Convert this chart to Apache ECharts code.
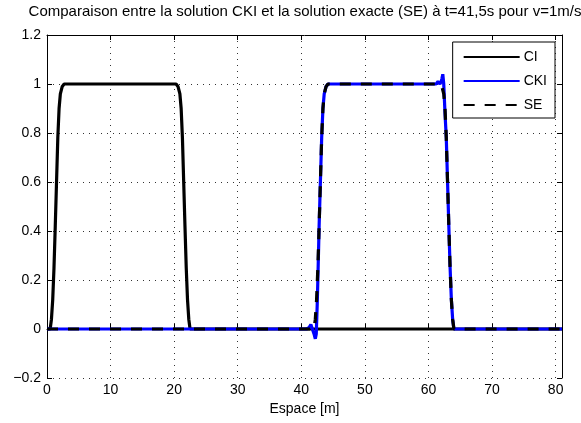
<!DOCTYPE html>
<html>
<head>
<meta charset="utf-8">
<script src="https://cdn.jsdelivr.net/npm/echarts@6/dist/echarts.min.js"></script>
<style>html,body{margin:0;padding:0;background:#fff;}#c{width:581px;height:423px;}</style>
</head>
<body>
<div id="c"></div>
<script>
// ---- data ----
const titleText = 'Comparaison entre la solution CKI et la solution exacte (SE) à t=41,5s pour v=1m/s';
const xName = 'Espace [m]';
const seriesNames = ['CI', 'CKI', 'SE'];
const xTicks = [0, 10, 20, 30, 40, 50, 60, 70, 80];
const yTicks = [-0.2, 0, 0.2, 0.4, 0.6, 0.8, 1, 1.2];

const ciX = [0, 0.5, 0.7, 0.9, 1.1, 1.3, 1.5, 1.7, 1.9, 2.1, 2.4, 2.7, 20.3, 20.6, 20.9, 21.1, 21.3, 21.5, 21.7, 21.9, 22.1, 22.3, 22.5, 81];
const ciY = [0, 0, 0.04, 0.12, 0.25, 0.42, 0.6, 0.78, 0.9, 0.96, 0.99, 1, 1, 0.99, 0.96, 0.9, 0.78, 0.6, 0.42, 0.25, 0.12, 0.04, 0, 0];

const ckiX = [0, 40.8, 41.2, 41.5, 41.8, 42.0, 42.2, 42.35, 42.5, 42.6, 42.8, 43.0, 43.2, 43.4, 43.6, 43.9, 44.2, 61.2, 61.5, 61.8, 62.0, 62.1, 62.25, 62.4, 62.6, 62.8, 63.0, 63.2, 63.4, 63.6, 63.8, 64.0, 81];
const ckiY = [0, 0, 0.005, 0.018, 0.01, -0.02, -0.04, -0.02, 0.1, 0.2, 0.42, 0.6, 0.78, 0.9, 0.96, 0.99, 1, 1, 1.01, 1.0, 1.01, 1.02, 1.04, 1.0, 0.88, 0.78, 0.6, 0.42, 0.25, 0.12, 0.04, 0, 0];

const seX = [0, 42.0, 42.2, 42.4, 42.6, 42.8, 43.0, 43.2, 43.4, 43.6, 43.9, 44.2, 61.8, 62.1, 62.4, 62.6, 62.8, 63.0, 63.2, 63.4, 63.6, 63.8, 64.0, 81];
const seY = [0, 0, 0.04, 0.12, 0.25, 0.42, 0.6, 0.78, 0.9, 0.96, 0.99, 1, 1, 0.99, 0.96, 0.9, 0.78, 0.6, 0.42, 0.25, 0.12, 0.04, 0, 0];

// ---- build ----
const zip = (xs, ys) => xs.map((x, i) => [x, ys[i]]);
const FONT = 'Liberation Sans, Arial, Helvetica, sans-serif';
const chart = echarts.init(document.getElementById('c'), null, {renderer: 'canvas'});
const dots = {show: true, lineStyle: {color: '#333', width: 1, type: [1, 5]}};
const fmtY = v => (Math.round(v * 10) / 10).toString().replace('-', '\u2212');

chart.setOption({
  animation: false,
  backgroundColor: '#fff',
  graphic: [{
    type: 'text', x: 305, y: 4,
    style: {text: titleText, fill: '#000', font: '15px ' + FONT, textAlign: 'center', textVerticalAlign: 'top'}
  }],
  grid: {left: 47, right: 19, top: 35, bottom: 45, show: false},
  legend: {
    data: seriesNames, orient: 'vertical', right: 26, top: 42,
    itemWidth: 56, itemHeight: 14, itemGap: 10,
    padding: [8, 8, 6, 10],
    borderColor: '#000', borderWidth: 1, backgroundColor: '#fff',
    itemStyle: {opacity: 0},
    textStyle: {fontFamily: FONT, fontSize: 14, lineHeight: 14, color: '#000', padding: [0, 0, 0, -1]}
  },
  xAxis: [{
    type: 'value', min: 0, max: 81, interval: 10,
    name: xName, nameLocation: 'middle', nameGap: 24,
    nameTextStyle: {fontFamily: FONT, fontSize: 14, color: '#000'},
    axisLine: {show: true, lineStyle: {color: '#000', width: 1}},
    axisTick: {show: true, inside: true, length: 5, lineStyle: {color: '#000'}},
    axisLabel: {fontFamily: FONT, fontSize: 14, color: '#000', margin: 5, showMaxLabel: false,
      formatter: v => (v % 10 === 0 ? String(v) : '')},
    splitLine: dots
  }, {
    type: 'value', min: 0, max: 81, interval: 10, position: 'top',
    axisLine: {show: true, onZero: false, lineStyle: {color: '#000', width: 1}},
    axisTick: {show: true, inside: true, length: 5, lineStyle: {color: '#000'}},
    axisLabel: {show: false}, splitLine: {show: false}
  }],
  yAxis: [{
    type: 'value', min: -0.2, max: 1.2, interval: 0.2,
    axisLine: {show: true, onZero: false, lineStyle: {color: '#000', width: 1}},
    axisTick: {show: true, inside: true, length: 5, lineStyle: {color: '#000'}},
    axisLabel: {fontFamily: FONT, fontSize: 14, color: '#000', margin: 6, formatter: fmtY},
    splitLine: dots
  }, {
    type: 'value', min: -0.2, max: 1.2, interval: 0.2, position: 'right',
    axisLine: {show: true, onZero: false, lineStyle: {color: '#000', width: 1}},
    axisTick: {show: true, inside: true, length: 5, lineStyle: {color: '#000'}},
    axisLabel: {show: false}, splitLine: {show: false}
  }],
  series: [
    {name: 'CI', type: 'line', data: zip(ciX, ciY), symbol: 'none', smooth: false,
     lineStyle: {color: '#000', width: 3.2}, itemStyle: {color: '#000'}, z: 2},
    {name: 'CKI', type: 'line', data: zip(ckiX, ckiY), symbol: 'none',
     lineStyle: {color: '#0000ff', width: 3.2}, itemStyle: {color: '#0000ff'}, z: 3},
    {name: 'SE', type: 'line', data: zip(seX, seY), symbol: 'none',
     lineStyle: {color: '#000', width: 3.2, type: [11, 10]}, itemStyle: {color: '#000'}, z: 4}
  ]
});
</script>
</body>
</html>
